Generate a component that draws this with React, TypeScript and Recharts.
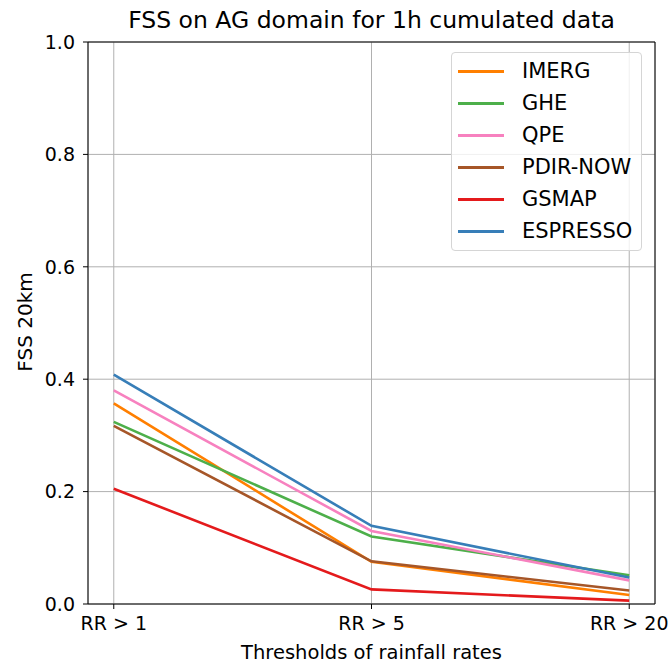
import { LineChart, Line, XAxis, YAxis, CartesianGrid, ReferenceLine } from "recharts";

const thresholds = ["RR > 1", "RR > 5", "RR > 20"];
const imerg = [0.357, 0.075, 0.016];
const ghe = [0.324, 0.12, 0.051];
const qpe = [0.38, 0.13, 0.042];
const pdirNow = [0.317, 0.076, 0.024];
const gsmap = [0.205, 0.026, 0.006];
const espresso = [0.408, 0.139, 0.047];

const series = [
  { key: "IMERG", values: imerg, color: "#ff7f00" },
  { key: "GHE", values: ghe, color: "#4daf4a" },
  { key: "QPE", values: qpe, color: "#f781bf" },
  { key: "PDIR-NOW", values: pdirNow, color: "#a65628" },
  { key: "GSMAP", values: gsmap, color: "#e41a1c" },
  { key: "ESPRESSO", values: espresso, color: "#377eb8" },
];

const data = thresholds.map((t, i) => {
  const row: Record<string, number | string> = { x: i, label: t };
  series.forEach((s) => (row[s.key] = s.values[i]));
  return row;
});

const FONT = "DejaVu Sans, sans-serif";
const TICK = { fill: "#000", fontSize: 19, fontFamily: FONT };

// legend drawn as an overlay so it doesn't steal plot height
function LegendBox() {
  return (
    <div
      style={{
        position: "absolute",
        left: 451,
        top: 52,
        width: 191,
        height: 199,
        boxSizing: "border-box",
        border: "1px solid #d5d5d5",
        borderRadius: 4,
        background: "rgba(255,255,255,0.8)",
        paddingTop: 2,
        fontFamily: FONT,
        fontSize: 21,
        color: "#000",
      }}
    >
      {series.map((s) => (
        <div key={s.key} style={{ display: "flex", alignItems: "center", height: 32 }}>
          <span
            style={{ width: 46, height: 3, background: s.color, marginLeft: 6, marginRight: 18, display: "inline-block" }}
          />
          {s.key}
        </div>
      ))}
    </div>
  );
}

export default function App() {
  return (
    <div style={{ position: "absolute", left: 0, top: 0, width: 672, height: 668, background: "#fff" }}>
      <LineChart width={672} height={668} data={data} margin={{ top: 42, right: 17, bottom: 0, left: 0 }}>
        <CartesianGrid stroke="#b0b0b0" strokeWidth={1} />
        <XAxis
          dataKey="x"
          type="number"
          height={64}
          domain={[-0.1, 2.1]}
          ticks={[0, 1, 2]}
          tickFormatter={(v: number) => thresholds[v]}
          tick={{ ...TICK, dy: 6 }}
          stroke="#000"
          tickSize={5}
        />
        <YAxis
          width={88}
          domain={[0, 1]}
          ticks={[0, 0.2, 0.4, 0.6, 0.8, 1]}
          tickFormatter={(v: number) => v.toFixed(1)}
          tick={{ ...TICK, dx: -6 }}
          stroke="#000"
          tickSize={5}
        />
        <ReferenceLine y={1} stroke="#000" strokeWidth={1} />
        <ReferenceLine x={2.1} stroke="#000" strokeWidth={1} />
        {series.map((s) => (
          <Line
            key={s.key}
            dataKey={s.key}
            stroke={s.color}
            strokeWidth={2.6}
            dot={false}
            isAnimationActive={false}
            type="linear"
          />
        ))}
      </LineChart>
      <div
        style={{
          position: "absolute",
          top: 6,
          left: 88,
          width: 567,
          textAlign: "center",
          fontFamily: FONT,
          fontSize: 23.5,
        }}
      >
        FSS on AG domain for 1h cumulated data
      </div>
      <div
        style={{
          position: "absolute",
          top: 641,
          left: 88,
          width: 567,
          textAlign: "center",
          fontFamily: FONT,
          fontSize: 19.5,
        }}
      >
        Thresholds of rainfall rates
      </div>
      <div
        style={{
          position: "absolute",
          left: 25,
          top: 322,
          transform: "translate(-50%, -50%) rotate(-90deg)",
          whiteSpace: "nowrap",
          fontFamily: FONT,
          fontSize: 20,
        }}
      >
        FSS 20km
      </div>
      <LegendBox />
    </div>
  );
}
